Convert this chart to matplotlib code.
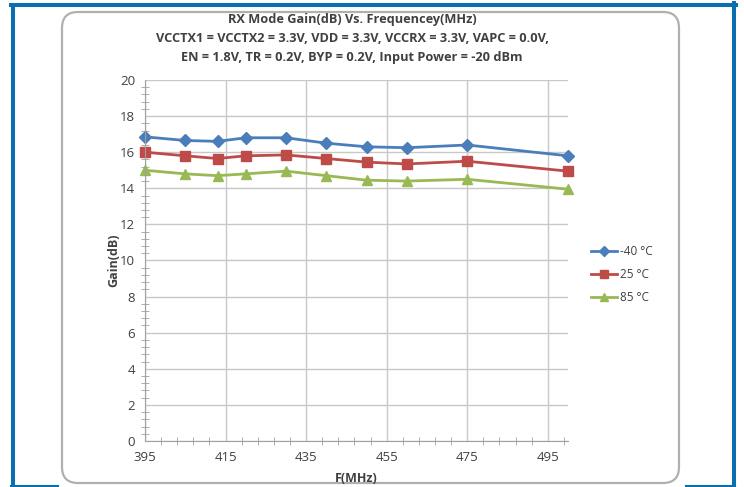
import matplotlib
matplotlib.use("Agg")
import numpy as np
import matplotlib.pyplot as plt
from matplotlib.patches import FancyBboxPatch
from matplotlib.lines import Line2D
from matplotlib.ticker import MultipleLocator, FixedLocator

plt.rcParams['font.family'] = ['Open Sans', 'DejaVu Sans']

freq = [395, 405, 413, 420, 430, 440, 450, 460, 475, 500]
gain_m40 = [16.85, 16.65, 16.6, 16.8, 16.8, 16.5, 16.3, 16.25, 16.4, 15.8]
gain_25 = [16.0, 15.8, 15.65, 15.8, 15.85, 15.65, 15.45, 15.35, 15.5, 14.95]
gain_85 = [15.0, 14.8, 14.7, 14.8, 14.95, 14.7, 14.45, 14.4, 14.5, 13.95]
labels = ['-40 °C', '25 °C', '85 °C']
x_ticks = [395, 415, 435, 455, 475, 495]

fig = plt.figure(figsize=(7.44, 4.87), dpi=100)
fig.patch.set_facecolor('white')

# rounded grey chart box
box = FancyBboxPatch((0.62, 0.04), 6.17, 4.71,
                     boxstyle="round,pad=0,rounding_size=0.16",
                     transform=fig.dpi_scale_trans, facecolor='white',
                     edgecolor='#b0b0b0', linewidth=1.6, zorder=-1)
fig.patches.append(box)

# blue outer frame
blue = '#0a6fb0'
tr = fig.dpi_scale_trans
fig.lines.append(Line2D([0.125, 0.125], [0.01, 4.825], color=blue, lw=2.9, transform=tr))
fig.lines.append(Line2D([0.11, 7.355], [4.825, 4.825], color=blue, lw=2.9, transform=tr))
fig.lines.append(Line2D([7.34, 7.34], [0.01, 4.84], color=blue, lw=2.9, transform=tr))
fig.lines.append(Line2D([0.11, 0.58], [0.01, 0.01], color=blue, lw=1.5, transform=tr))
fig.lines.append(Line2D([6.86, 7.35], [0.01, 0.01], color=blue, lw=1.5, transform=tr))

ax = fig.add_axes([0.1949, 0.0945, 0.5685, 0.7412], zorder=2)
ax.patch.set_alpha(0)
ax.plot(freq, gain_m40, color='#4a7ebb', marker='D', ms=6.5, lw=2, label=labels[0], clip_on=False)
ax.plot(freq, gain_25, color='#be4b48', marker='s', ms=7, lw=2, label=labels[1], clip_on=False)
ax.plot(freq, gain_85, color='#98b954', marker='^', ms=7.5, lw=2, label=labels[2], clip_on=False)

ax.set_xlim(395, 500)
ax.set_ylim(0, 20)
ax.xaxis.set_major_locator(FixedLocator(x_ticks))
ax.xaxis.set_minor_locator(FixedLocator(np.arange(395, 501, 4)))
ax.yaxis.set_major_locator(MultipleLocator(2))
ax.yaxis.set_minor_locator(MultipleLocator(0.4))
ax.grid(True, which='major', color='#c8c8c8', lw=1)
ax.set_axisbelow(True)
for s in ['top', 'right']:
    ax.spines[s].set_visible(False)
for s in ['left', 'bottom']:
    ax.spines[s].set_color('#a0a0a0')
ax.tick_params(which='major', length=0, labelsize=9.5, labelcolor='#404040', pad=7)
ax.tick_params(which='minor', direction='inout', length=6, color='#a0a0a0')

ax.set_xlabel('F(MHz)', fontsize=9, fontweight='bold', color='#404040', labelpad=6)
ax.set_ylabel('Gain(dB)', fontsize=9, fontweight='bold', color='#404040', labelpad=0)

title_kw = dict(ha='center', va='center', fontsize=9.2, fontweight='bold', color='#404040')
fig.text(352 / 744, 1 - 20 / 487, 'RX Mode Gain(dB) Vs. Frequencey(MHz)', **title_kw)
fig.text(352 / 744, 1 - 39 / 487, 'VCCTX1 = VCCTX2 = 3.3V, VDD = 3.3V, VCCRX = 3.3V, VAPC = 0.0V,', **title_kw)
fig.text(352 / 744, 1 - 58 / 487, 'EN = 1.8V, TR = 0.2V, BYP = 0.2V, Input Power = -20 dBm', **title_kw)

leg = ax.legend(loc='center left', bbox_to_anchor=(1.03, 0.46), frameon=False, fontsize=8.5,
                handlelength=2.2, labelspacing=0.85, markerscale=0.8, handletextpad=0.2)
for t in leg.get_texts():
    t.set_color('#404040')

fig.savefig('out.png', dpi=100)
